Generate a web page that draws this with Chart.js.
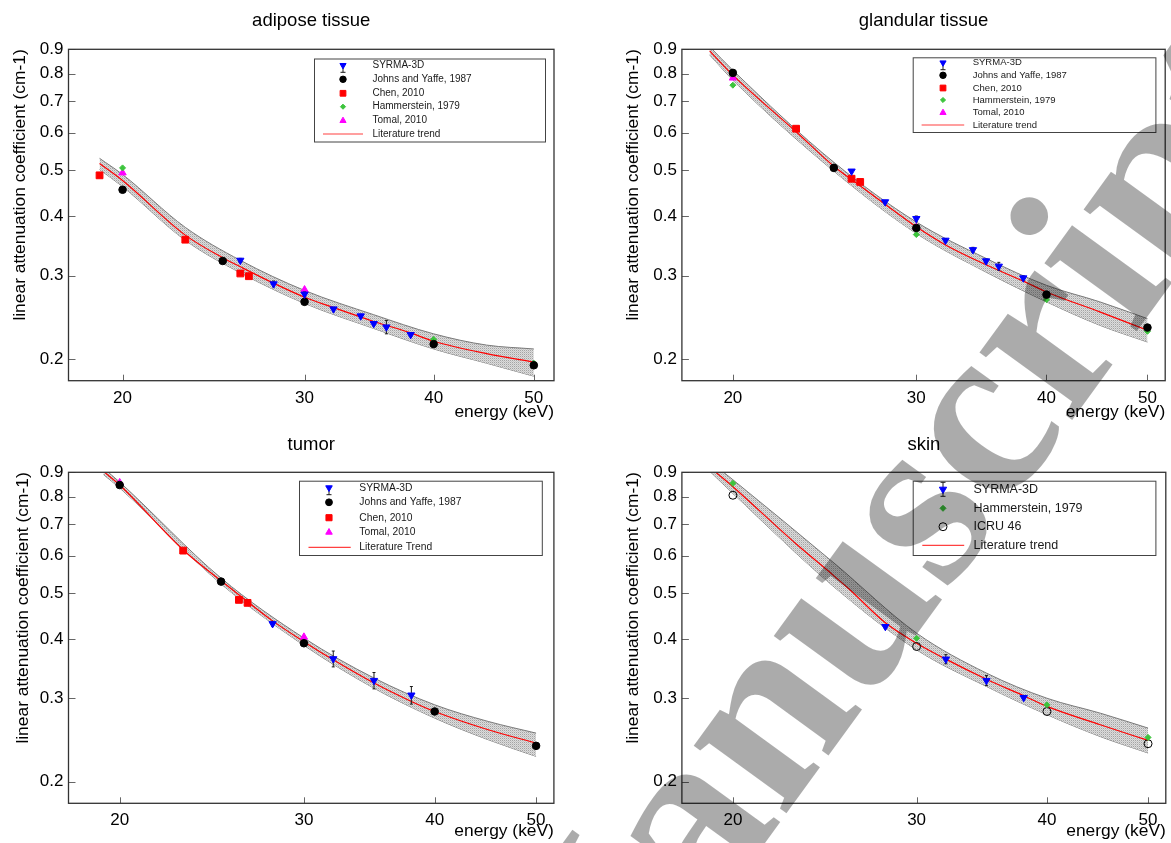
<!DOCTYPE html>
<html>
<head>
<meta charset="utf-8">
<title>linear attenuation coefficients</title>
<script src="https://cdn.jsdelivr.net/npm/chart.js@4.4.0/dist/chart.umd.min.js"></script>
<style>
  body { margin: 0; background: #fff; width: 1171px; height: 843px; overflow: hidden; position: relative; }
  canvas.panel { position: absolute; }
  #stamp { position: absolute; left: 0; top: 0; pointer-events: none; }
</style>
</head>
<body>
<canvas id="adipose" class="panel"></canvas>
<canvas id="glandular" class="panel"></canvas>
<canvas id="tumor" class="panel"></canvas>
<canvas id="skin" class="panel"></canvas>
<canvas id="stamp" width="1171" height="843"></canvas>
<script>
// axis ticks (keV and cm-1)
const xTicks = [20, 30, 40, 50];
const yTicks = [0.2, 0.3, 0.4, 0.5, 0.6, 0.7, 0.8, 0.9];
const yTickLabels = ["0.2", "0.3", "0.4", "0.5", "0.6", "0.7", "0.8", "0.9"];

// adipose tissue
const adiposeSyrmaE = [26, 28, 30, 32, 34, 35, 36, 38];
const adiposeSyrma = [0.323, 0.288, 0.274, 0.255, 0.2465, 0.2375, 0.2336, 0.2251];
const adiposeSyrmaErr = [0.003, 0.004, 0.003, 0.002, 0.002, 0.002, 0.0076, 0.002];
const adiposeJohnsE = [20, 25, 30, 40, 50];
const adiposeJohns = [0.455, 0.322, 0.264, 0.215, 0.194];
const adiposeChenE = [19, 23, 26, 26.5];
const adiposeChen = [0.488, 0.357, 0.303, 0.299];
const adiposeHammE = [20, 40, 50];
const adiposeHamm = [0.506, 0.22, 0.196];
const adiposeTomalE = [20, 30];
const adiposeTomal = [0.494, 0.28];
const adiposeTrendE = [19, 20, 23, 25, 26, 28, 30, 32, 35, 38, 40, 45, 50];
const adiposeTrend = [0.517, 0.476, 0.365, 0.327, 0.313, 0.289, 0.27, 0.2567, 0.24, 0.227, 0.218, 0.2053, 0.197];
const adiposeBandE = [19, 20, 23, 26, 30, 35, 40, 45, 50];
const adiposeBandHi = [0.53, 0.49, 0.379, 0.323, 0.279, 0.248, 0.226, 0.214, 0.21];
const adiposeBandLo = [0.502, 0.462, 0.356, 0.304, 0.262, 0.232, 0.21, 0.196, 0.184];

// glandular tissue
const glandSyrmaE = [26, 28, 30, 32, 34, 35, 36, 38];
const glandSyrma = [0.498, 0.429, 0.3955, 0.356, 0.34, 0.322, 0.3138, 0.2965];
const glandSyrmaErr = [0.004, 0.003, 0.005, 0.003, 0.004, 0.003, 0.006, 0.003];
const glandJohnsE = [20, 25, 30, 40, 50];
const glandJohns = [0.8026, 0.506, 0.378, 0.2734, 0.233];
const glandChenE = [23, 26, 26.5];
const glandChen = [0.612, 0.48, 0.4726];
const glandHammE = [20, 30, 40, 50];
const glandHamm = [0.756, 0.366, 0.2668, 0.2288];
const glandTomalE = [20, 30];
const glandTomal = [0.783, 0.379];
const glandTrendE = [19, 20, 23, 25, 26, 28, 30, 32, 35, 38, 40, 45, 50];
const glandTrend = [0.893, 0.794, 0.603, 0.51, 0.478, 0.424, 0.38, 0.348, 0.316, 0.292, 0.277, 0.2514, 0.23];
const glandBandE = [19, 20, 25, 30, 35, 40, 45, 50];
const glandBandHi = [0.912, 0.813, 0.52, 0.389, 0.326, 0.286, 0.264, 0.2433];
const glandBandLo = [0.876, 0.775, 0.498, 0.368, 0.305, 0.264, 0.2356, 0.2172];

// tumor
const tumorSyrmaE = [28, 32, 35, 38];
const tumorSyrma = [0.431, 0.3634, 0.327, 0.3046];
const tumorSyrmaErr = [0.005, 0.014, 0.013, 0.013];
const tumorJohnsE = [20, 25, 30, 40, 50];
const tumorJohns = [0.846, 0.529, 0.392, 0.2813, 0.238];
const tumorChenE = [23, 26, 26.5];
const tumorChen = [0.615, 0.484, 0.477];
const tumorTomalE = [20, 30];
const tumorTomal = [0.856, 0.404];
const tumorTrendE = [19.35, 20, 23, 25, 26, 28, 30, 32, 35, 38, 40, 45, 50];
const tumorTrend = [0.9, 0.846, 0.617, 0.531, 0.496, 0.437, 0.395, 0.3616, 0.323, 0.2954, 0.2813, 0.2574, 0.2412];
const tumorBandE = [19.3, 20, 25, 30, 35, 40, 45, 50];
const tumorBandHi = [0.918, 0.858, 0.538, 0.402, 0.331, 0.2906, 0.268, 0.2532];
const tumorBandLo = [0.89, 0.834, 0.523, 0.388, 0.315, 0.2724, 0.2452, 0.2261];

// skin
const skinSyrmaE = [28, 32, 35, 38];
const skinSyrma = [0.425, 0.3628, 0.327, 0.301];
const skinSyrmaErr = [0.004, 0.008, 0.008, 0.003];
const skinHammE = [20, 30, 40, 50];
const skinHamm = [0.853, 0.4017, 0.2906, 0.248];
const skinIcruE = [20, 30, 40, 50];
const skinIcru = [0.805, 0.3858, 0.2813, 0.2405];
const skinTrendE = [19.26, 20, 23, 25, 26, 28, 30, 32, 35, 38, 40, 45, 50];
const skinTrend = [0.9, 0.839, 0.635, 0.544, 0.504, 0.433, 0.392, 0.3628, 0.329, 0.3036, 0.2883, 0.2637, 0.2444];
const skinBandE = [19, 20, 25, 30, 35, 40, 45, 50];
const skinBandHi = [0.95, 0.868, 0.579, 0.4117, 0.339, 0.3, 0.279, 0.2595];
const skinBandLo = [0.905, 0.812, 0.5155, 0.3796, 0.3177, 0.277, 0.249, 0.2299];

Chart.defaults.font.family = "'Liberation Sans', Arial, Helvetica, sans-serif";
Chart.defaults.color = "#000";

const MARKERS = {
  syrma: { pointStyle: "triangle", rotation: 180, radius: 4.2, fill: "#0000ff", stroke: "#0000ff" },
  johns: { pointStyle: "circle", rotation: 0, radius: 3.8, fill: "#000", stroke: "#000" },
  chen: { pointStyle: "rect", rotation: 0, radius: 4.8, fill: "#ff0000", stroke: "#ff0000" },
  hamm: { pointStyle: "rectRot", rotation: 0, radius: 3, fill: "#3cc43c", stroke: "#3cc43c" },
  tomal: { pointStyle: "triangle", rotation: 0, radius: 4.2, fill: "#ff00ff", stroke: "#ff00ff" },
  icru: { pointStyle: "circle", rotation: 0, radius: 4, fill: "rgba(0,0,0,0)", stroke: "#000" },
};

function zip(es, vs) {
  return es.map((e, i) => ({ x: e, y: vs[i] }));
}

function markerSet(label, kind, es, vs, errs) {
  const m = MARKERS[kind];
  return {
    label: label, kind: kind, data: zip(es, vs), errors: errs,
    showLine: false, order: 1,
    pointStyle: m.pointStyle, rotation: m.rotation, pointRadius: m.radius,
    pointBackgroundColor: m.fill, pointBorderColor: m.stroke, pointBorderWidth: 1,
    backgroundColor: m.fill, borderColor: m.stroke,
  };
}

function trendSet(label, es, vs) {
  return {
    label: label, kind: "trend", data: zip(es, vs), order: 2,
    borderColor: "#ff0000", borderWidth: 1.2, pointRadius: 0, fill: false,
    cubicInterpolationMode: "monotone",
  };
}

function hatch() {
  const c = document.createElement("canvas");
  c.width = 2; c.height = 2;
  const g = c.getContext("2d");
  g.fillStyle = "#dcdcdc"; g.fillRect(0, 0, 2, 2);
  g.fillStyle = "#a4a4a4"; g.fillRect(0, 0, 1, 1);
  g.fillStyle = "#c6c6c6"; g.fillRect(1, 1, 1, 1);
  return g.createPattern(c, "repeat");
}

function bandSets(es, hi, lo) {
  const common = {
    kind: "band", order: 3, borderColor: "#7a7a7a", borderWidth: 1,
    pointRadius: 0, cubicInterpolationMode: "monotone", inLegend: false,
  };
  return [
    Object.assign({ label: "band+", data: zip(es, hi), fill: "+1", backgroundColor: hatch() }, common),
    Object.assign({ label: "band-", data: zip(es, lo), fill: false }, common),
  ];
}

// marker drawing for the legend box
function drawMarker(ctx, m, x, y) {
  const r = m.radius;
  ctx.beginPath();
  if (m.pointStyle === "circle") {
    ctx.arc(x, y, r, 0, Math.PI * 2);
  } else if (m.pointStyle === "rect") {
    const s = r * Math.SQRT1_2;
    ctx.rect(x - s, y - s, 2 * s, 2 * s);
  } else if (m.pointStyle === "rectRot") {
    ctx.moveTo(x, y - r); ctx.lineTo(x + r, y); ctx.lineTo(x, y + r); ctx.lineTo(x - r, y);
    ctx.closePath();
  } else {
    const dir = m.rotation === 180 ? 1 : -1;
    const h = r * 1.5, w = r * Math.sqrt(3) / 2;
    ctx.moveTo(x, y + dir * r);
    ctx.lineTo(x - w, y - dir * (h - r));
    ctx.lineTo(x + w, y - dir * (h - r));
    ctx.closePath();
  }
  ctx.fillStyle = m.fill; ctx.fill();
  ctx.strokeStyle = m.stroke; ctx.lineWidth = 1; ctx.stroke();
}

const decor = {
  id: "decor",
  beforeDatasetDraw(chart, args) {
    const ds = chart.data.datasets[args.index];
    if (!ds.errors) return;
    const { ctx, scales } = chart;
    ctx.save();
    ctx.strokeStyle = "#1a1a1a";
    ctx.lineWidth = 1;
    ds.data.forEach((p, i) => {
      const px = scales.x.getPixelForValue(p.x);
      const y0 = scales.y.getPixelForValue(p.y - ds.errors[i]);
      const y1 = scales.y.getPixelForValue(p.y + ds.errors[i]);
      ctx.beginPath();
      ctx.moveTo(px, y0); ctx.lineTo(px, y1);
      ctx.moveTo(px - 1.5, y0); ctx.lineTo(px + 1.5, y0);
      ctx.moveTo(px - 1.5, y1); ctx.lineTo(px + 1.5, y1);
      ctx.stroke();
    });
    ctx.restore();
  },
  afterDatasetsDraw(chart, args, opts) {
    const { ctx, chartArea: a, scales } = chart;
    ctx.save();
    // inward tick marks
    ctx.strokeStyle = "#666";
    ctx.lineWidth = 1;
    ctx.beginPath();
    scales.y.ticks.forEach(t => {
      const py = Math.round(scales.y.getPixelForValue(t.value)) + 0.5;
      ctx.moveTo(a.left, py); ctx.lineTo(a.left + 7, py);
    });
    scales.x.ticks.forEach(t => {
      const px = Math.round(scales.x.getPixelForValue(t.value)) + 0.5;
      ctx.moveTo(px, a.bottom); ctx.lineTo(px, a.bottom - 6);
    });
    ctx.stroke();
    // frame
    ctx.strokeStyle = "#333";
    ctx.lineWidth = 1.3;
    ctx.strokeRect(a.left, a.top, a.right - a.left, a.bottom - a.top);

    // legend box
    const L = opts.box;
    ctx.fillStyle = "#fff";
    ctx.fillRect(L.x, L.y, L.w, L.h);
    ctx.strokeStyle = "#444";
    ctx.lineWidth = 1;
    ctx.strokeRect(L.x + 0.5, L.y + 0.5, L.w, L.h);
    ctx.font = L.font + "px 'Liberation Sans', Arial, sans-serif";
    ctx.textBaseline = "middle";
    ctx.textAlign = "left";
    const rows = chart.data.datasets.filter(d => d.inLegend !== false);
    rows.forEach((d, i) => {
      const ry = L.rows[i];
      if (d.kind === "trend") {
        ctx.strokeStyle = "#ff4040";
        ctx.lineWidth = 1.2;
        ctx.beginPath();
        ctx.moveTo(L.line[0], ry); ctx.lineTo(L.line[1], ry);
        ctx.stroke();
      } else {
        const m = MARKERS[d.kind];
        if (d.kind === "syrma") {
          ctx.strokeStyle = "#1a1a1a";
          ctx.lineWidth = 1;
          ctx.beginPath();
          const top = L.bar === "both" ? ry - 7 : ry;
          ctx.moveTo(L.mark, top); ctx.lineTo(L.mark, ry + 7);
          ctx.moveTo(L.mark - 2.5, ry + 7); ctx.lineTo(L.mark + 2.5, ry + 7);
          if (L.bar === "both") { ctx.moveTo(L.mark - 2.5, top); ctx.lineTo(L.mark + 2.5, top); }
          ctx.stroke();
        }
        drawMarker(ctx, Object.assign({}, m, { radius: m.radius * L.scale }), L.mark, ry);
      }
      ctx.fillStyle = "#1a1a1a";
      ctx.fillText(d.label, L.text, ry);
    });
    ctx.restore();
  },
};

const panels = [
  {
    id: "adipose", title: "adipose tissue", left: 0, top: 0, width: 585, height: 425,
    area: { left: 68.5, right: 554, top: 49.3, bottom: 380.7 },
    titleY: 20.5, yTitleX: 20.7, xTitleY: 412, xRange: [17.73, 52.3],
    legend: { x: 314, y: 58.5, w: 231, h: 83, font: 10, scale: 0.85,
      rows: [65.3, 79.3, 93.3, 106.7, 120.7, 134], mark: 343, text: 372.5, line: [323, 363], bar: "down" },
    datasets: [
      markerSet("SYRMA-3D", "syrma", adiposeSyrmaE, adiposeSyrma, adiposeSyrmaErr),
      markerSet("Johns and Yaffe, 1987", "johns", adiposeJohnsE, adiposeJohns),
      markerSet("Chen, 2010", "chen", adiposeChenE, adiposeChen),
      markerSet("Hammerstein, 1979", "hamm", adiposeHammE, adiposeHamm),
      markerSet("Tomal, 2010", "tomal", adiposeTomalE, adiposeTomal),
      trendSet("Literature trend", adiposeTrendE, adiposeTrend),
      ...bandSets(adiposeBandE, adiposeBandHi, adiposeBandLo),
    ],
  },
  {
    id: "glandular", title: "glandular tissue", left: 585, top: 0, width: 586, height: 425,
    area: { left: 96.9, right: 582.3, top: 49.3, bottom: 380.7 },
    titleY: 20.7, yTitleX: 48.7, xTitleY: 412, xRange: [17.87, 52.0],
    legend: { x: 327.7, y: 57.3, w: 242.7, h: 74.7, font: 9.5, scale: 0.85,
      rows: [62.7, 75.3, 88, 100, 112.7, 125], mark: 358, text: 387.7, line: [336.6, 379.2], bar: "down" },
    datasets: [
      markerSet("SYRMA-3D", "syrma", glandSyrmaE, glandSyrma, glandSyrmaErr),
      markerSet("Johns and Yaffe, 1987", "johns", glandJohnsE, glandJohns),
      markerSet("Chen, 2010", "chen", glandChenE, glandChen),
      markerSet("Hammerstein, 1979", "hamm", glandHammE, glandHamm),
      markerSet("Tomal, 2010", "tomal", glandTomalE, glandTomal),
      trendSet("Literature trend", glandTrendE, glandTrend),
      ...bandSets(glandBandE, glandBandHi, glandBandLo),
    ],
  },
  {
    id: "tumor", title: "tumor", left: 0, top: 420, width: 585, height: 423,
    area: { left: 68.5, right: 553.9, top: 52.3, bottom: 383.3 },
    titleY: 25, yTitleX: 23.3, xTitleY: 411.7, xRange: [17.87, 52.0],
    legend: { x: 299, y: 60.7, w: 242.8, h: 74.3, font: 10.3, scale: 0.9,
      rows: [67.7, 82.3, 97.7, 112.3, 127.3], mark: 329, text: 359.3, line: [308.5, 350.7], bar: "down" },
    datasets: [
      markerSet("SYRMA-3D", "syrma", tumorSyrmaE, tumorSyrma, tumorSyrmaErr),
      markerSet("Johns and Yaffe, 1987", "johns", tumorJohnsE, tumorJohns),
      markerSet("Chen, 2010", "chen", tumorChenE, tumorChen),
      markerSet("Tomal, 2010", "tomal", tumorTomalE, tumorTomal),
      trendSet("Literature Trend", tumorTrendE, tumorTrend),
      ...bandSets(tumorBandE, tumorBandHi, tumorBandLo),
    ],
  },
  {
    id: "skin", title: "skin", left: 585, top: 420, width: 586, height: 423,
    area: { left: 96.9, right: 582.3, top: 52.3, bottom: 383.3 },
    titleY: 25, yTitleX: 48.7, xTitleY: 411.7, xRange: [17.87, 52.0],
    legend: { x: 327.7, y: 60.7, w: 242.7, h: 74.3, font: 12.5, scale: 1,
      rows: [69.3, 88.3, 106.7, 125.3], mark: 358, text: 388.5, line: [337.3, 379.2], bar: "both" },
    datasets: [
      markerSet("SYRMA-3D", "syrma", skinSyrmaE, skinSyrma, skinSyrmaErr),
      markerSet("Hammerstein, 1979", "hamm", skinHammE, skinHamm),
      markerSet("ICRU 46", "icru", skinIcruE, skinIcru),
      trendSet("Literature trend", skinTrendE, skinTrend),
      ...bandSets(skinBandE, skinBandHi, skinBandLo),
    ],
  },
];

panels.forEach(p => {
  const canvas = document.getElementById(p.id);
  canvas.width = p.width;
  canvas.height = p.height;
  canvas.style.left = p.left + "px";
  canvas.style.top = p.top + "px";

  const titleSize = 18.5, titleLH = titleSize * 1.2;
  const titleTop = p.titleY - titleLH / 2;
  const axisTitleSize = 17.4, axisLH = axisTitleSize * 1.2;

  new Chart(canvas, {
    type: "line",
    data: { datasets: p.datasets },
    plugins: [decor],
    options: {
      responsive: false,
      animation: false,
      events: [],
      layout: { padding: { left: 0, top: 0, bottom: 0, right: p.width - p.area.right } },
      plugins: {
        legend: { display: false },
        tooltip: { enabled: false },
        title: {
          display: true, text: p.title, fullSize: false, color: "#000",
          font: { size: titleSize, weight: "normal" },
          padding: { top: titleTop, bottom: p.area.top - titleTop - titleLH },
        },
        decor: { box: p.legend },
      },
      scales: {
        x: {
          type: "logarithmic", min: p.xRange[0], max: p.xRange[1],
          afterBuildTicks: s => { s.ticks = xTicks.map(v => ({ value: v })); },
          afterFit: s => { s.height = p.height - p.area.bottom; },
          grid: { display: false, drawTicks: false },
          border: { display: false },
          ticks: { font: { size: 17 }, color: "#000", padding: 7, maxRotation: 0, autoSkip: false,
            callback: v => String(v) },
          title: { display: true, text: "energy (keV)", align: "end", color: "#000",
            font: { size: axisTitleSize },
            padding: { top: 0, bottom: p.height - p.xTitleY - axisLH / 2 } },
        },
        y: {
          type: "logarithmic", min: 0.18, max: 0.9,
          afterBuildTicks: s => { s.ticks = yTicks.map(v => ({ value: v })); },
          afterFit: s => { s.width = p.area.left; },
          grid: { display: false, drawTicks: false },
          border: { display: false },
          ticks: { font: { size: 17 }, color: "#000", padding: 5, autoSkip: false,
            callback: (v, i) => yTickLabels[i] },
          title: { display: true, text: "linear attenuation coefficient (cm-1)", align: "end", color: "#000",
            font: { size: axisTitleSize },
            padding: { top: p.yTitleX - axisLH / 2, bottom: 0 } },
        },
      },
    },
  });
});

// translucent "Accepted Manuscript" stamp across the lower right
const stamp = document.getElementById("stamp").getContext("2d");
stamp.font = "bold 250px 'Liberation Serif', 'DejaVu Serif', serif";
stamp.fillStyle = "rgba(0,0,0,0.33)";
stamp.translate(709, 920);
stamp.rotate(-54 * Math.PI / 180);
const lead = stamp.measureText("Accepted M").width;
stamp.fillText("Accepted Manuscript", -lead, 0);
</script>
</body>
</html>
